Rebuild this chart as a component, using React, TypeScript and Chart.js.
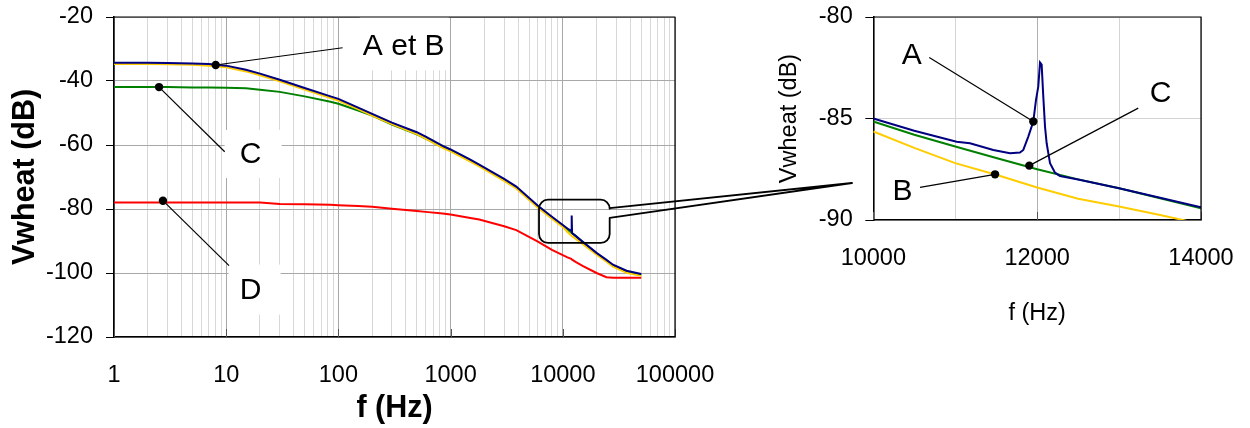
import React, { useEffect, useRef } from 'react';
import { Chart, registerables } from 'chart.js';

Chart.register(...registerables);

const FONT = "Arial, 'Liberation Sans', Helvetica, sans-serif";

// ---------- Main chart (log frequency axis) ----------
const mainFreq = [1, 2, 3, 5, 7, 10, 15, 20, 30, 50, 85, 100, 150, 200, 300, 500, 600, 850, 1000, 1500, 1800, 3000, 3850, 6000, 8000, 10000, 11000, 11900, 12000, 12100, 13000, 15000, 20000, 24500, 28000, 37000, 50000];
const mainA = [-34.3, -34.3, -34.4, -34.5, -34.7, -35.2, -36.5, -37.7, -39.6, -42.2, -44.8, -45.6, -48.3, -50.3, -53.0, -56.0, -57.4, -60.3, -61.4, -64.6, -66.1, -70.6, -73.0, -79.0, -82.4, -85.0, -86.1, -86.8, -82.0, -87.5, -88.4, -90.2, -93.7, -95.9, -97.4, -99.3, -100.3];
const mainB = [-34.7, -34.7, -34.8, -34.9, -35.2, -35.7, -37.0, -38.2, -40.1, -42.7, -45.3, -46.1, -48.8, -50.8, -53.5, -56.6, -58.0, -60.9, -62.0, -65.2, -66.7, -71.2, -73.6, -79.6, -83.0, -85.6, -87.2, -88.3, -88.4, -88.5, -89.3, -90.9, -94.3, -96.5, -98.0, -99.9, -100.9];
const mainC = [-41.9, -41.9, -41.9, -42.0, -42.0, -42.1, -42.3, -42.7, -43.4, -44.8, -46.5, -47.1, -49.2, -50.8, -53.6, -56.7, -58.0, -60.7, -61.7, -64.9, -66.4, -70.9, -73.3, -79.3, -82.7, -85.2, -86.4, -87.4, -87.5, -87.6, -88.4, -90.4, -93.9, -96.1, -97.6, -99.6, -100.6];
const mainD = [-78.0, -78.0, -78.0, -78.0, -78.0, -78.0, -78.0, -78.0, -78.4, -78.5, -78.7, -78.8, -79.1, -79.3, -79.9, -80.6, -80.9, -81.4, -81.7, -82.8, -83.3, -85.4, -86.6, -90.2, -92.8, -94.4, -95.1, -95.6, -95.7, -95.8, -96.5, -97.8, -100.0, -101.3, -101.5, -101.5, -101.5];
const mainDecades = [1, 10, 100, 1000, 10000, 100000];
const mainYTicks = [-120, -100, -80, -60, -40, -20];

// ---------- Zoom chart (linear frequency axis) ----------
const zoomFreqA = [10000, 10500, 11017, 11180, 11465, 11668, 11790, 11831, 11892, 11953, 11986, 12014, 12035, 12055, 12075, 12096, 12116, 12157, 12218, 12279, 12500, 13000, 13500, 14000];
const zoomA = [-85.0, -85.6, -86.14, -86.22, -86.55, -86.71, -86.68, -86.55, -85.89, -85.15, -84.08, -83.42, -82.24, -82.35, -83.92, -85.4, -86.22, -87.2, -87.67, -87.83, -88.0, -88.44, -88.9, -89.37];
const zoomFreqBC = [10000, 10500, 11000, 11500, 12000, 12500, 13000, 13500, 14000];
const zoomB = [-85.64, -86.45, -87.2, -87.77, -88.4, -88.95, -89.34, -89.75, -90.2];
const zoomC = [-85.15, -85.8, -86.38, -86.95, -87.5, -88.0, -88.44, -88.93, -89.42];
const zoomXTicks = [10000, 11000, 12000, 13000, 14000];
const zoomXLabels = [10000, 12000, 14000];
const zoomYTicks = [-90, -85, -80];

// ---------- Annotations (data coordinates) ----------
const mainLabels = [
  { text: 'A et B', dot: [8.06, -35.0], lead: [109, -29.6], at: [382, -29.2], box: [44, 30, 45, 24] },
  { text: 'C', dot: [2.52, -41.9], lead: [9.7, -62.1], at: [16.5, -63.1], box: [26, 25, 31, 23] },
  { text: 'D', dot: [2.73, -77.4], lead: [10.6, -97.7], at: [16.5, -105.5], box: [22, 26, 30, 24] },
];
const zoomLabels = [
  { text: 'A', dot: [11953, -85.15], lead: [10683, -81.99], at: [10469, -81.9] },
  { text: 'C', dot: [11904, -87.32], lead: [13234, -84.49], at: [13508, -83.79] },
  { text: 'B', dot: [11486, -87.75], lead: [10570, -88.39], at: [10356, -88.6] },
];
const calloutF = [6138, 26170];
const calloutDb = [-77.1, -90.6];
const calloutTailDb = [-79.7, -82.8];
const calloutTarget = [852, 183];

const COLORS = { A: '#000080', B: '#FFCC00', C: '#008000', D: '#FF0000' };

const isDecade = (v: number) => Math.abs(Math.log10(v) - Math.round(Math.log10(v))) < 1e-9;

const series = (label: string, xs: number[], ys: number[], color: string) => ({
  label,
  data: xs.map((x, i) => ({ x, y: ys[i] })),
  showLine: true,
  borderColor: color,
  backgroundColor: color,
  borderWidth: 2,
  pointRadius: 0,
  tension: 0,
});

function drawDot(ctx: CanvasRenderingContext2D, x: number, y: number) {
  ctx.beginPath();
  ctx.arc(x, y, 4.2, 0, Math.PI * 2);
  ctx.fillStyle = '#000';
  ctx.fill();
}

const mainPlugin = {
  id: 'mainAnnot',
  afterDatasetsDraw(chart: any) {
    const { ctx, chartArea: ca, scales } = chart;
    const x = scales.x, y = scales.y;
    ctx.save();
    ctx.strokeStyle = '#555';
    ctx.lineWidth = 1;
    mainDecades.forEach((d) => {
      const px = Math.round(x.getPixelForValue(d)) + 0.5;
      ctx.beginPath();
      ctx.moveTo(px, ca.bottom);
      ctx.lineTo(px, ca.bottom - 8);
      ctx.stroke();
    });
    ctx.fillStyle = '#fff';
    mainLabels.forEach((l) => {
      const cx = x.getPixelForValue(l.at[0]);
      const cy = y.getPixelForValue(l.at[1]);
      ctx.fillRect(cx - l.box[0], cy - l.box[1], l.box[0] + l.box[2], l.box[1] + l.box[3]);
    });
    ctx.font = `30px ${FONT}`;
    ctx.textAlign = 'center';
    ctx.textBaseline = 'middle';
    mainLabels.forEach((l) => {
      const dx = x.getPixelForValue(l.dot[0]);
      const dy = y.getPixelForValue(l.dot[1]);
      const lx = x.getPixelForValue(l.lead[0]);
      const ly = y.getPixelForValue(l.lead[1]);
      ctx.strokeStyle = '#000';
      ctx.lineWidth = 1.2;
      ctx.beginPath();
      ctx.moveTo(dx, dy);
      ctx.lineTo(lx, ly);
      ctx.stroke();
      drawDot(ctx, dx, dy);
      ctx.fillStyle = '#000';
      ctx.fillText(l.text, x.getPixelForValue(l.at[0]), y.getPixelForValue(l.at[1]));
    });
    const L = x.getPixelForValue(calloutF[0]);
    const R = x.getPixelForValue(calloutF[1]);
    const T = y.getPixelForValue(calloutDb[0]);
    const B = y.getPixelForValue(calloutDb[1]);
    const t1 = y.getPixelForValue(calloutTailDb[0]);
    const t2 = y.getPixelForValue(calloutTailDb[1]);
    const r = 9;
    ctx.strokeStyle = '#000';
    ctx.lineWidth = 1.8;
    ctx.lineJoin = 'round';
    ctx.beginPath();
    ctx.moveTo(L + r, T);
    ctx.lineTo(R - r, T);
    ctx.arcTo(R, T, R, T + r, r);
    ctx.lineTo(R, t1);
    ctx.lineTo(calloutTarget[0], calloutTarget[1]);
    ctx.lineTo(R, t2);
    ctx.lineTo(R, B - r);
    ctx.arcTo(R, B, R - r, B, r);
    ctx.lineTo(L + r, B);
    ctx.arcTo(L, B, L, B - r, r);
    ctx.lineTo(L, T + r);
    ctx.arcTo(L, T, L + r, T, r);
    ctx.closePath();
    ctx.stroke();
    ctx.lineWidth = 1.2;
    ctx.beginPath();
    ctx.moveTo(ca.left, ca.top);
    ctx.lineTo(ca.right, ca.top);
    ctx.lineTo(ca.right, ca.bottom);
    ctx.stroke();
    ctx.restore();
  },
};

const zoomPlugin = {
  id: 'zoomAnnot',
  afterDatasetsDraw(chart: any) {
    const { ctx, chartArea: ca, scales } = chart;
    const x = scales.x, y = scales.y;
    ctx.save();
    ctx.strokeStyle = '#555';
    ctx.lineWidth = 1;
    zoomXLabels.forEach((v) => {
      const px = Math.round(x.getPixelForValue(v)) + 0.5;
      ctx.beginPath();
      ctx.moveTo(px, ca.bottom);
      ctx.lineTo(px, ca.bottom - 8);
      ctx.stroke();
    });
    ctx.font = `30px ${FONT}`;
    ctx.textAlign = 'center';
    ctx.textBaseline = 'middle';
    zoomLabels.forEach((l) => {
      const dx = x.getPixelForValue(l.dot[0]);
      const dy = y.getPixelForValue(l.dot[1]);
      const lx = x.getPixelForValue(l.lead[0]);
      const ly = y.getPixelForValue(l.lead[1]);
      ctx.strokeStyle = '#000';
      ctx.lineWidth = 1.2;
      ctx.beginPath();
      ctx.moveTo(dx, dy);
      ctx.lineTo(lx, ly);
      ctx.stroke();
      drawDot(ctx, dx, dy);
      ctx.fillStyle = '#000';
      ctx.fillText(l.text, x.getPixelForValue(l.at[0]), y.getPixelForValue(l.at[1]));
    });
    ctx.strokeStyle = '#000';
    ctx.lineWidth = 1.2;
    ctx.beginPath();
    ctx.moveTo(ca.left, ca.top);
    ctx.lineTo(ca.right, ca.top);
    ctx.lineTo(ca.right, ca.bottom);
    ctx.stroke();
    ctx.restore();
  },
};

export default function App() {
  const leftRef = useRef<HTMLCanvasElement>(null);
  const rightRef = useRef<HTMLCanvasElement>(null);

  useEffect(() => {
    Chart.defaults.font.family = FONT;
    Chart.defaults.color = '#000';

    const main = new Chart(leftRef.current as HTMLCanvasElement, {
      type: 'scatter',
      data: {
        datasets: [
          series('A', mainFreq, mainA, COLORS.A),
          series('B', mainFreq, mainB, COLORS.B),
          series('C', mainFreq, mainC, COLORS.C),
          series('D', mainFreq, mainD, COLORS.D),
        ] as any,
      },
      options: {
        responsive: false,
        animation: false,
        events: [],
        layout: { padding: { left: 0, top: 17, right: 575, bottom: 0 } },
        plugins: { legend: { display: false }, tooltip: { enabled: false } },
        scales: {
          x: {
            type: 'logarithmic',
            min: 1,
            max: 100000,
            afterBuildTicks: (s: any) => {
              const t: any[] = [];
              mainDecades.forEach((d) => {
                for (let k = 1; k <= 9; k++) {
                  const v = k * d;
                  if (v <= 100000) t.push({ value: v, major: k === 1 });
                }
              });
              s.ticks = t;
            },
            afterFit: (s: any) => {
              s.height = 91;
              s.paddingLeft = 0;
              s.paddingRight = 0;
            },
            grid: {
              color: (c: any) => (c.tick && isDecade(c.tick.value) ? '#a8a8a8' : '#d8d8d8'),
              drawTicks: false,
              lineWidth: 1,
            },
            border: { color: '#000', width: 1.6 },
            ticks: {
              autoSkip: false,
              maxRotation: 0,
              minRotation: 0,
              padding: 24.7,
              color: '#000',
              font: { size: 23.5, family: FONT },
              callback: (v: any) => (isDecade(Number(v)) ? String(v) : ''),
            },
            title: {
              display: true,
              text: 'f (Hz)',
              color: '#000',
              font: { size: 30.5, weight: 'bold', family: FONT },
              padding: { top: 0, bottom: 0.7 },
            },
          },
          y: {
            type: 'linear',
            min: -120,
            max: -20,
            afterBuildTicks: (s: any) => { s.ticks = mainYTicks.map((v) => ({ value: v })); },
            afterFit: (s: any) => {
              s.width = 114;
              s.paddingTop = 0;
              s.paddingBottom = 0;
            },
            grid: { color: '#a8a8a8', tickColor: '#000', tickLength: 8, lineWidth: 1 },
            border: { color: '#000', width: 1.6 },
            ticks: { padding: 13, color: '#000', font: { size: 23.5, family: FONT } },
            title: {
              display: true,
              text: 'Vwheat (dB)',
              color: '#000',
              font: { size: 30.5, weight: 'bold', family: FONT },
              padding: { top: 7.1, bottom: 0 },
            },
          },
        },
      } as any,
      plugins: [mainPlugin],
    });

    const zoom = new Chart(rightRef.current as HTMLCanvasElement, {
      type: 'scatter',
      data: {
        datasets: [
          series('A', zoomFreqA, zoomA, COLORS.A),
          series('C', zoomFreqBC, zoomC, COLORS.C),
          series('B', zoomFreqBC, zoomB, COLORS.B),
        ] as any,
      },
      options: {
        responsive: false,
        animation: false,
        events: [],
        layout: { padding: { left: 0, top: 17, right: 49, bottom: 0 } },
        plugins: { legend: { display: false }, tooltip: { enabled: false } },
        scales: {
          x: {
            type: 'linear',
            min: 10000,
            max: 14000,
            afterBuildTicks: (s: any) => { s.ticks = zoomXTicks.map((v) => ({ value: v })); },
            afterFit: (s: any) => {
              s.height = 208;
              s.paddingLeft = 0;
              s.paddingRight = 0;
            },
            grid: {
              color: (c: any) => (c.tick && zoomXLabels.includes(c.tick.value) ? '#b0b0b0' : '#d4d4d4'),
              drawTicks: false,
            },
            border: { color: '#000', width: 1.6 },
            ticks: {
              autoSkip: false,
              maxRotation: 0,
              minRotation: 0,
              padding: 24.2,
              color: '#000',
              font: { size: 23.5, family: FONT },
              callback: (v: any) => (zoomXLabels.includes(Number(v)) ? String(v) : ''),
            },
            title: {
              display: true,
              text: 'f (Hz)',
              color: '#000',
              font: { size: 23.5, family: FONT },
              padding: { top: 0, bottom: 100 },
            },
          },
          y: {
            type: 'linear',
            min: -90,
            max: -80,
            afterBuildTicks: (s: any) => { s.ticks = zoomYTicks.map((v) => ({ value: v })); },
            afterFit: (s: any) => {
              s.width = 133.3;
              s.paddingTop = 0;
              s.paddingBottom = 0;
            },
            grid: { color: '#d4d4d4', tickColor: '#000', tickLength: 8 },
            border: { color: '#000', width: 1.6 },
            ticks: { padding: 12.6, color: '#000', font: { size: 23.5, family: FONT } },
            title: {
              display: true,
              text: 'Vwheat (dB)',
              color: '#000',
              font: { size: 23.5, family: FONT },
              padding: { top: 35.2, bottom: 0 },
            },
          },
        },
      } as any,
      plugins: [zoomPlugin],
    });

    return () => {
      main.destroy();
      zoom.destroy();
    };
  }, []);

  return (
    <div style={{ position: 'fixed', left: 0, top: 0, width: 1250, height: 428, background: '#fff' }}>
      <canvas
        ref={leftRef}
        width={1250}
        height={428}
        style={{ position: 'absolute', left: 0, top: 0, width: 1250, height: 428 }}
      />
      <canvas
        ref={rightRef}
        width={510}
        height={428}
        style={{ position: 'absolute', left: 740, top: 0, width: 510, height: 428 }}
      />
    </div>
  );
}
